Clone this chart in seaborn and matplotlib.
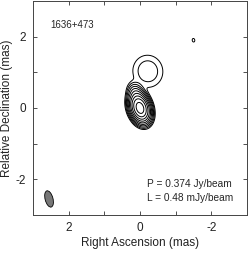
import matplotlib
matplotlib.use("Agg")
import matplotlib.pyplot as plt
import numpy as np
import seaborn as sns
from matplotlib.patches import Ellipse

# model components: peak (mJy/beam), RA, Dec, sigma major, sigma minor (mas), PA (deg E of N)
comp_peak = [374.0, 15.0, 1.6, 0.62]
comp_ra = [0.0, 0.10, -0.22, -1.50]
comp_dec = [0.0, 0.35, 1.03, 1.90]
comp_smaj = [0.17, 0.15, 0.29, 0.07]
comp_smin = [0.11, 0.10, 0.27, 0.05]
comp_pa = [18.0, 18.0, 10.0, 10.0]

peak_mjy = 374.0
low_mjy = 0.48
beam_ra, beam_dec = 2.55, -2.55
beam_maj, beam_min, beam_pa = 0.47, 0.22, 15.0

source = "1636+473"


def model_image(ra, dec):
    img = np.zeros_like(ra)
    for a, x0, y0, smj, smn, pa in zip(comp_peak, comp_ra, comp_dec, comp_smaj, comp_smin, comp_pa):
        t = np.radians(pa)
        dx = ra - x0; dy = dec - y0
        u = dx * np.sin(t) + dy * np.cos(t)   # along major axis
        v = dx * np.cos(t) - dy * np.sin(t)
        img += a * np.exp(-0.5 * ((u / smj) ** 2 + (v / smn) ** 2))
    return img


sns.set_style("ticks")
plt.rcParams["font.family"] = ["Liberation Sans", "DejaVu Sans"]

fig = plt.figure(figsize=(2.49, 2.54), dpi=100)
ax = fig.add_axes([33 / 249, 39 / 254, 214 / 249, 214 / 254])

g = np.linspace(-3, 3, 700)
RA, DEC = np.meshgrid(g, g)
img = model_image(RA, DEC)

levels = [low_mjy * 2 ** k for k in range(20) if low_mjy * 2 ** k < peak_mjy]
ax.contour(RA, DEC, img, levels=levels, colors="black", linewidths=0.7)

ax.add_patch(Ellipse((beam_ra, beam_dec), beam_min, beam_maj, angle=-beam_pa,
                     facecolor="#777777", edgecolor="black", linewidth=0.6))

ax.set_xlim(3, -3)
ax.set_ylim(-3, 3)
ax.set_xticks([2, 1, 0, -1, -2])
ax.set_xticklabels(["2", "", "0", "", "-2"])
ax.set_yticks([-2, -1, 0, 1, 2])
ax.set_yticklabels(["-2", "", "0", "", "2"])
ax.tick_params(direction="in", top=True, right=True, length=3, width=0.6,
               labelsize=8.5, colors="#333333", labelcolor="#222222", pad=5)
for s in ax.spines.values():
    s.set_linewidth(0.7)
    s.set_color("#444444")

ax.set_xlabel("Right Ascension (mas)", fontsize=8.5, color="#222222", labelpad=2)
ax.set_ylabel("Relative Declination (mas)", fontsize=8.5, color="#222222", labelpad=2)

ax.text(0.08, 0.89, source, transform=ax.transAxes, fontsize=7, va="center", ha="left")
ax.text(0.535, 0.147, "P = %.3f Jy/beam" % (peak_mjy / 1000), transform=ax.transAxes,
        fontsize=7.3, va="center", ha="left")
ax.text(0.535, 0.078, "L = %.2f mJy/beam" % low_mjy, transform=ax.transAxes,
        fontsize=7.3, va="center", ha="left")

fig.savefig("out.png", dpi=100)
